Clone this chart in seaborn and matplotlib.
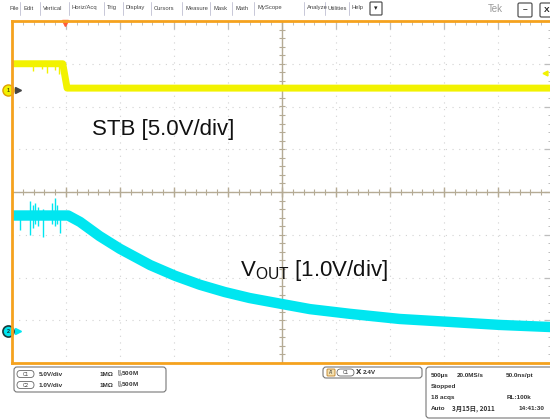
import numpy as np
import pandas as pd
import seaborn as sns
import matplotlib.pyplot as plt
from matplotlib.patches import FancyBboxPatch

# --- scope values read from the screen ---
# time in ms (trigger at 0, 500us/div), voltage in V
ch1_time = [-0.5, -0.03, 0.01, 4.5]
ch1_volt = [3.05, 3.05, 0.2, 0.2]
ch1_spike_t = [-0.31, -0.22, -0.18, -0.10, -0.065]
ch1_spike_v = [2.2, 2.4, 2.0, 2.3, 1.8]

ch2_time = [-0.5, 0.02, 0.13, 0.31, 0.5, 0.78, 1.01, 1.24, 1.47, 1.70,
            2.0, 2.26, 2.63, 3.09, 3.56, 4.02, 4.5]
ch2_volt = [2.7, 2.7, 2.55, 2.22, 1.92, 1.54, 1.29, 1.08, 0.91, 0.77,
            0.63, 0.51, 0.40, 0.28, 0.21, 0.14, 0.09]
ch2_spike_t = [-0.426, -0.333, -0.306, -0.287, -0.259, -0.213, -0.13, -0.102, -0.083, -0.056]
ch2_spike_hi = [2.8, 3.05, 2.95, 3.0, 2.9, 2.85, 3.0, 3.1, 2.95, 2.8]
ch2_spike_lo = [2.35, 2.25, 2.4, 2.5, 2.45, 2.2, 2.5, 2.45, 2.5, 2.3]

ch1_scale, ch1_offset = 5.0, 2.39    # V/div, ground position in div
ch2_scale, ch2_offset = 1.0, -3.25

YEL = "#f2f200"
CYN = "#00e6f0"
ORG = "#f5a21e"
GRID = "#d2d2d2"
AXIS = "#b5ab95"

df1 = pd.DataFrame({"t": ch1_time, "div": [ch1_offset + v / ch1_scale for v in ch1_volt]})
df2 = pd.DataFrame({"t": ch2_time, "div": [ch2_offset + v / ch2_scale for v in ch2_volt]})

sns.set_style("white")
plt.rcParams["font.family"] = ["Liberation Sans", "DejaVu Sans"]
plt.rcParams["mathtext.fontset"] = "custom"
plt.rcParams["mathtext.rm"] = "Liberation Sans"

fig = plt.figure(figsize=(5.5, 4.19), dpi=100)
ax = fig.add_axes([12 / 550, 56 / 419, 540 / 550, 342 / 419])
ax.set_xlim(-0.5, 4.5)
ax.set_ylim(-4, 4)

# graticule
ax.set_xticks(np.arange(-0.5, 4.51, 0.5))
ax.set_xticks(np.arange(-0.5, 4.51, 0.1), minor=True)
ax.set_yticks(np.arange(-4, 4.01, 1))
ax.set_yticks(np.arange(-4, 4.01, 0.2), minor=True)
ax.tick_params(which="both", direction="in", top=True, right=True,
               labelbottom=False, labelleft=False, color="#bdbdbd")
ax.tick_params(which="major", length=6, width=0.9)
ax.tick_params(which="minor", length=3, width=0.7)
ax.grid(True, which="major", color=GRID, linestyle=(0, (1, 5)), linewidth=0.8)
for s in ax.spines.values():
    s.set_color(ORG)
    s.set_linewidth(2)
ax.axhline(0, color=AXIS, lw=1)
ax.axvline(2.0, color=AXIS, lw=1)
ax.plot(np.arange(-0.5, 4.51, 0.1), np.zeros(51), "|", color=AXIS, ms=4, mew=0.8)
ax.plot(np.arange(-0.5, 4.51, 0.5), np.zeros(11), "|", color=AXIS, ms=7, mew=1.0)
ax.plot(np.full(41, 2.0), np.arange(-4, 4.01, 0.2), "_", color=AXIS, ms=4, mew=0.8)

# traces
sns.lineplot(data=df1, x="t", y="div", ax=ax, color=YEL, lw=5, legend=False)
sns.lineplot(data=df2, x="t", y="div", ax=ax, color=CYN, lw=7.5, legend=False)
ax.vlines(ch1_spike_t, ch1_offset + 3.05 / ch1_scale,
          [ch1_offset + v / ch1_scale for v in ch1_spike_v], color=YEL, lw=1)
ax.vlines(ch2_spike_t, [ch2_offset + v for v in ch2_spike_lo],
          [ch2_offset + v for v in ch2_spike_hi], color=CYN, lw=1)
ax.set_xlabel("")
ax.set_ylabel("")

tr = fig.dpi_scale_trans


def px(x, y):
    return x / 100, (419 - y) / 100


def label(x, y, s, **kw):
    kw.setdefault("fontsize", 4.6)
    kw.setdefault("fontweight", "bold")
    kw.setdefault("color", "#333333")
    kw.setdefault("va", "center")
    fig.text(*px(x, y), s, transform=tr, **kw)


def box(x0, y0, x1, y1, r=3, ec="#777777", fc="white", lw=0.8):
    bx, by = px(x0, y1)
    fig.patches.append(FancyBboxPatch((bx, by), (x1 - x0) / 100, (y1 - y0) / 100,
                                      boxstyle=f"round,pad=0,rounding_size={r / 100}",
                                      transform=tr, ec=ec, fc=fc, lw=lw))


# channel ground markers and trigger markers
ax.plot(*px(18, 90), ">", transform=tr, color="#444444", ms=4, clip_on=False)
ax.plot(*px(8, 90), "o", transform=tr, color=YEL, mec="#e0a000", ms=8, clip_on=False)
label(8, 90, "1", fontsize=4, ha="center", color="#555500")
ax.plot(*px(18, 331), ">", transform=tr, color=CYN, ms=4, clip_on=False)
ax.plot(*px(8, 331), "o", transform=tr, color=CYN, mec="#1a3a3a", mew=1.2, ms=8, clip_on=False)
label(8, 331, "2", fontsize=4, ha="center", color="#103030")
ax.plot(*px(65, 23), "v", transform=tr, color="#ff5a3a", ms=4, clip_on=False)
ax.plot(*px(545, 73), "<", transform=tr, color=YEL, ms=3.5, clip_on=False)

# annotations
fig.text(*px(92, 129), "STB [5.0V/div]", transform=tr, fontsize=16, va="center", color="#111111")
fig.text(*px(240, 270), r"V$_{\mathrm{OUT}}$ [1.0V/div]", transform=tr, fontsize=16,
         va="center", color="#111111")

# menu bar
menu = [("File", 9), ("Edit", 23), ("Vertical", 43), ("Horiz/Acq", 72), ("Trig", 107),
        ("Display", 126), ("Cursors", 154), ("Measure", 185), ("Mask", 213),
        ("Math", 235), ("MyScope", 257), ("Analyze", 307), ("Utilities", 328), ("Help", 352)]
for i, (name, x) in enumerate(menu):
    label(x, 8, name, fontweight="normal", fontsize=4.2, color="#444444")
    if i > 0:
        fig.add_artist(plt.Line2D([(x - 3) / 550] * 2, [1 - 2 / 419, 1 - 15 / 419],
                                  color="#c8c8d8", lw=0.7))
box(370, 2, 382, 15, r=1, ec="#555555", lw=0.9)
label(376, 8.5, "▾", ha="center", fontsize=5, color="#222222")
label(488, 9, "Tek", fontweight="normal", fontsize=7, color="#9a9a9a")
box(518, 3, 532, 17, r=1.5, ec="#555555", lw=0.9)
label(525, 10, "–", ha="center", fontsize=6, color="#222222")
box(540, 3, 553, 17, r=1.5, ec="#555555", lw=0.9)
label(546.5, 10, "X", ha="center", fontsize=6, color="#222222")

# status boxes
box(14, 367, 166, 392)
for y, txt in [(374, "C1"), (385, "C2")]:
    box(17, y - 3.5, 34, y + 3.5, r=3.5, ec="#666666", lw=0.6)
    label(25.5, y, txt, ha="center", fontsize=3.4, fontweight="normal")
label(39, 374, "5.0V/div")
label(39, 385, "1.0V/div")
for y in (374, 385):
    label(100, y, "1MΩ")
    label(117, y, r"$^{\mathrm{B}}_{\mathrm{W}}$500M")

box(323, 367, 422, 378)
box(327, 369, 335, 376, r=0.8, ec="#c08020", fc="#f3e0b0", lw=0.6)
label(331, 372.5, "A'", ha="center", fontsize=3.4, fontweight="normal")
box(337, 369, 354, 376, r=3.5, ec="#666666", lw=0.6)
label(345.5, 372.5, "C1", ha="center", fontsize=3.4, fontweight="normal")
label(356, 372.5, "Ⅹ", fontsize=5)
label(363, 372.5, "2.4V")

box(426, 367, 556, 418)
label(431, 375, "500µs")
label(457, 375, "20.0MS/s")
label(506, 375, "50.0ns/pt")
label(431, 386, "Stopped")
label(431, 397, "18 acqs")
label(507, 397, "RL:100k")
label(431, 408, "Auto")
label(452, 408, "3月15日, 2011", family=["Noto Sans CJK JP", "DejaVu Sans"])
label(519, 408, "14:41:30")

fig.savefig("out.png", dpi=100)
